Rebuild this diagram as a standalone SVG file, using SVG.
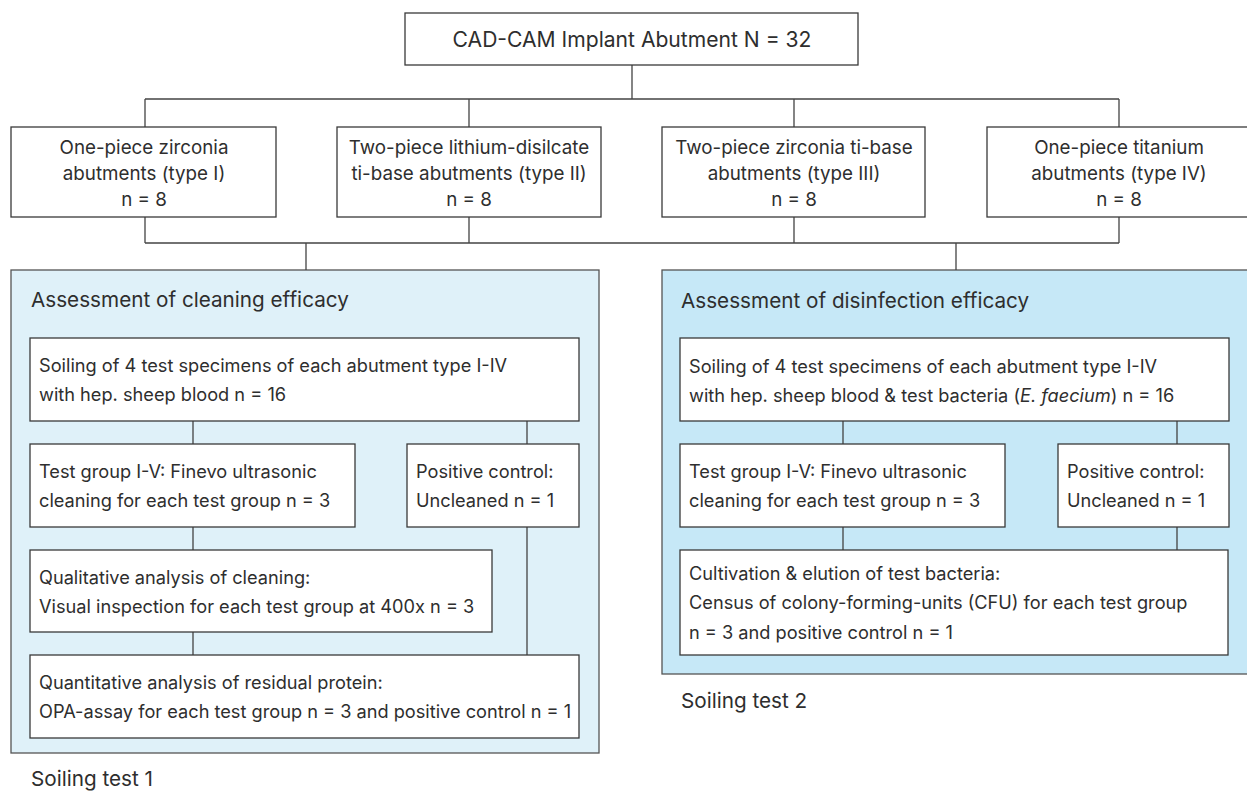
<svg xmlns="http://www.w3.org/2000/svg" width="1247" height="791" viewBox="0 0 1247 791">
<style>
.bg{fill:#ffffff}
.box{fill:#ffffff;stroke:#3a3a3a;stroke-width:1.3}
.p1{fill:#dff1f9;stroke:#555;stroke-width:1.3}
.p2{fill:#c6e8f7;stroke:#555;stroke-width:1.3}
.ln{fill:none;stroke:#444;stroke-width:1.3}
text{font-family:Inter,"Liberation Sans",sans-serif;fill:#2e2e2e}
.t{font-size:18.2px}
.c{font-size:18.8px;text-anchor:middle}
.h{font-size:20.7px}
.top{font-size:21.1px;text-anchor:middle}
</style>
<rect class="bg" x="0" y="0" width="1247" height="791"/>
<g id="panel-cleaning"><rect class="p1" x="11" y="270" width="588" height="483"/><text class="h" x="31" y="307">Assessment of cleaning efficacy</text></g>
<g id="panel-disinfection"><rect class="p2" x="662" y="270" width="600" height="404"/><text class="h" x="681" y="308">Assessment of disinfection efficacy</text></g>
<g id="connectors">
<path class="ln" d="M632 65V99M145 99H1119M145 99V127M469 99V127M794 99V127M1119 99V127"/>
<path class="ln" d="M145 217V243M469 217V243M794 217V243M1119 217V243M145 243H1119M306 243V270M956 243V270"/>
<path class="ln" d="M193 421V444M193 527V550M193 632V655M527 421V444M527 527V655"/>
<path class="ln" d="M843 421V444M843 527V550M1177 421V444M1177 527V550"/>
</g>
<g id="root"><rect class="box" x="405" y="13" width="453" height="52"/><text class="top" x="632" y="47">CAD-CAM Implant Abutment N = 32</text></g>
<g id="type1"><rect class="box" x="11" y="127" width="265" height="90"/><text class="c" x="144" y="154">One-piece zirconia</text><text class="c" x="144" y="180">abutments (type I)</text><text class="c" x="144" y="206">n = 8</text></g>
<g id="type2"><rect class="box" x="337" y="127" width="264" height="90"/><text class="c" x="469" y="154">Two-piece lithium-disilcate</text><text class="c" x="469" y="180">ti-base abutments (type II)</text><text class="c" x="469" y="206">n = 8</text></g>
<g id="type3"><rect class="box" x="662" y="127" width="263" height="90"/><text class="c" x="794" y="154">Two-piece zirconia ti-base</text><text class="c" x="794" y="180">abutments (type III)</text><text class="c" x="794" y="206">n = 8</text></g>
<g id="type4"><rect class="box" x="987" y="127" width="265" height="90"/><text class="c" x="1119" y="154">One-piece titanium</text><text class="c" x="1119" y="180">abutments (type IV)</text><text class="c" x="1119" y="206">n = 8</text></g>
<g id="soil1"><rect class="box" x="30" y="338" width="549" height="83"/><text class="t" x="39" y="372">Soiling of 4 test specimens of each abutment type I-IV</text><text class="t" x="39" y="401">with hep. sheep blood n = 16</text></g>
<g id="test1"><rect class="box" x="30" y="444" width="325" height="83"/><text class="t" x="39" y="478">Test group I-V: Finevo ultrasonic</text><text class="t" x="39" y="507">cleaning for each test group n = 3</text></g>
<g id="pos1"><rect class="box" x="407" y="444" width="172" height="83"/><text class="t" x="416" y="478">Positive control:</text><text class="t" x="416" y="507">Uncleaned n = 1</text></g>
<g id="qual1"><rect class="box" x="30" y="550" width="462" height="82"/><text class="t" x="39" y="584">Qualitative analysis of cleaning:</text><text class="t" x="39" y="613">Visual inspection for each test group at 400x n = 3</text></g>
<g id="quant1"><rect class="box" x="30" y="655" width="549" height="83"/><text class="t" x="39" y="689">Quantitative analysis of residual protein:</text><text class="t" x="39" y="718">OPA-assay for each test group n = 3 and positive control n = 1</text></g>
<text class="h" x="31" y="786">Soiling test 1</text>
<g id="soil2"><rect class="box" x="680" y="338" width="549" height="83"/><text class="t" x="689" y="373">Soiling of 4 test specimens of each abutment type I-IV</text><text class="t" x="689" y="402">with hep. sheep blood &amp; test bacteria (<tspan font-style="italic">E. faecium</tspan>) n = 16</text></g>
<g id="test2"><rect class="box" x="680" y="444" width="325" height="83"/><text class="t" x="689" y="478">Test group I-V: Finevo ultrasonic</text><text class="t" x="689" y="507">cleaning for each test group n = 3</text></g>
<g id="pos2"><rect class="box" x="1058" y="444" width="171" height="83"/><text class="t" x="1067" y="478">Positive control:</text><text class="t" x="1067" y="507">Uncleaned n = 1</text></g>
<g id="cult2"><rect class="box" x="680" y="550" width="548" height="105"/><text class="t" x="689" y="580">Cultivation &amp; elution of test bacteria:</text><text class="t" x="689" y="609">Census of colony-forming-units (CFU) for each test group</text><text class="t" x="689" y="639">n = 3 and positive control n = 1</text></g>
<text class="h" x="681" y="708">Soiling test 2</text>
</svg>
